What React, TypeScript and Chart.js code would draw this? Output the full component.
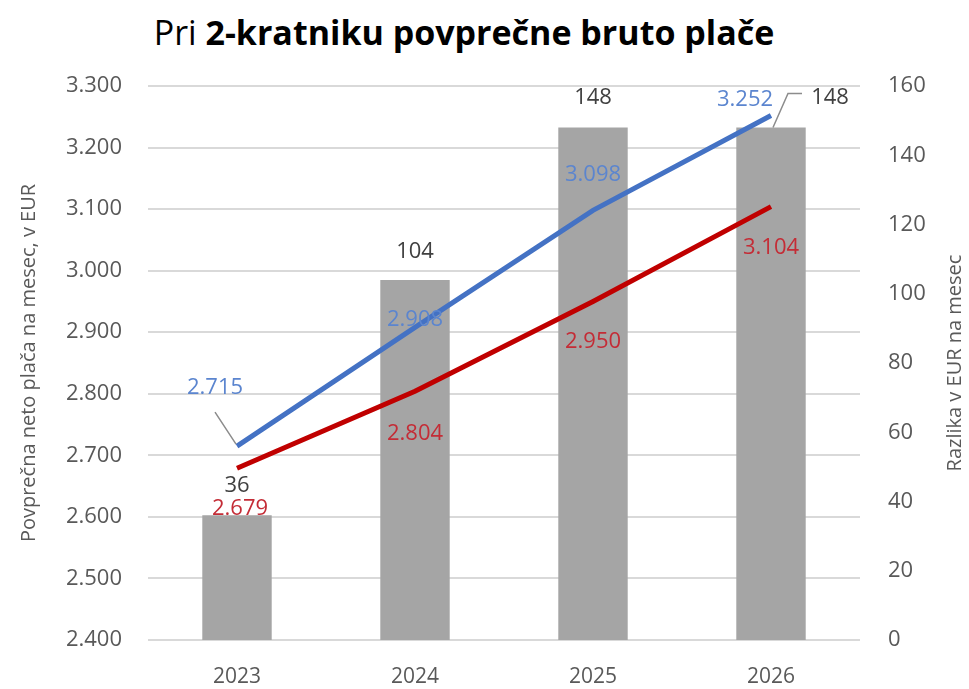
import React, { useEffect, useRef } from "react";
import { Chart, registerables } from "chart.js";

Chart.register(...registerables);

const years = ["2023", "2024", "2025", "2026"];
const razlika = [36, 104, 148, 148];
const netoModra = [2715, 2908, 3098, 3252];
const netoRdeca = [2679, 2804, 2950, 3104];

const leftTitle = "Povprečna neto plača na mesec, v EUR";
const rightTitle = "Razlika v EUR na mesec";

const FONT = "'Open Sans', 'Noto Sans', sans-serif";

const fmt = (v: number) => {
  const s = Math.round(v).toString();
  return s.replace(/\B(?=(\d{3})+(?!\d))/g, ".");
};

// label placement (pixel offsets from each mark's anchor)
const barOffsets = [[0, -30], [0, -28], [0, -30], [59, -30]];
const blueOffsets = [[-22, -58], [0, -8], [0, -36], [-26, -16]];
const redOffsets = [[3, 40], [0, 42], [0, 40], [0, 41]];

const labelPlugin = {
  id: "labels",
  afterDraw(chart: any) {
    const ctx = chart.ctx;
    const area = chart.chartArea;
    ctx.save();
    // right axis title, reading bottom-to-top
    ctx.font = `20px ${FONT}`;
    ctx.fillStyle = "#595959";
    ctx.textAlign = "center";
    ctx.textBaseline = "middle";
    ctx.translate(955, (area.top + area.bottom) / 2);
    ctx.rotate(-Math.PI / 2);
    ctx.fillText(rightTitle, 0, 0);
    ctx.restore();
  },
  afterDatasetsDraw(chart: any) {
    const ctx = chart.ctx;
    ctx.save();
    ctx.font = `22px ${FONT}`;
    ctx.textAlign = "center";
    ctx.textBaseline = "middle";
    const specs = [
      { idx: 0, offs: barOffsets, color: "#404040" },
      { idx: 1, offs: blueOffsets, color: "#5B85CF" },
      { idx: 2, offs: redOffsets, color: "#C42C36" },
    ];
    // leader lines
    const blue0 = chart.getDatasetMeta(1).data[0];
    const bar3 = chart.getDatasetMeta(0).data[3];
    ctx.strokeStyle = "#8c8c8c";
    ctx.lineWidth = 1.5;
    ctx.beginPath();
    ctx.moveTo(blue0.x - 22, blue0.y - 34);
    ctx.lineTo(blue0.x - 1, blue0.y - 2);
    ctx.moveTo(bar3.x + 2, bar3.y);
    ctx.lineTo(bar3.x + 17, bar3.y - 34);
    ctx.lineTo(bar3.x + 31, bar3.y - 34);
    ctx.stroke();
    for (const s of specs) {
      const meta = chart.getDatasetMeta(s.idx);
      const data = chart.data.datasets[s.idx].data;
      meta.data.forEach((el: any, i: number) => {
        const [dx, dy] = s.offs[i];
        ctx.fillStyle = s.color;
        const txt = s.idx === 0 ? String(data[i]) : fmt(data[i]);
        ctx.fillText(txt, el.x + dx, el.y + dy);
      });
    }
    ctx.restore();
  },
};

export default function App() {
  const ref = useRef<HTMLCanvasElement | null>(null);
  useEffect(() => {
    if (!ref.current) return;
    const chart = new Chart(ref.current, {
      type: "bar",
      data: {
        labels: years,
        datasets: [
          {
            type: "bar",
            label: "Razlika",
            data: razlika,
            yAxisID: "y1",
            backgroundColor: "#A5A5A5",
            barPercentage: 0.78,
            categoryPercentage: 0.5,
            order: 3,
          },
          {
            type: "line",
            label: "Modra",
            data: netoModra,
            yAxisID: "y",
            borderColor: "#4472C4",
            borderWidth: 5,
            pointRadius: 0,
            order: 1,
          },
          {
            type: "line",
            label: "Rdeča",
            data: netoRdeca,
            yAxisID: "y",
            borderColor: "#C00000",
            borderWidth: 5,
            pointRadius: 0,
            order: 2,
          },
        ] as any,
      },
      options: {
        animation: false,
        responsive: false,
        layout: { padding: { top: 86, left: 0, right: 0, bottom: 0 } },
        plugins: {
          legend: { display: false },
          tooltip: { enabled: false },
          title: { display: false },
        },
        scales: {
          x: {
            grid: { display: false, drawTicks: false },
            border: { display: false },
            ticks: { color: "#595959", font: { family: FONT, size: 21 }, padding: 24 },
            afterFit: (a: any) => { a.height = 49; },
          },
          y: {
            position: "left",
            min: 2400,
            max: 3300,
            ticks: {
              stepSize: 100,
              color: "#595959",
              font: { family: FONT, size: 22 },
              padding: 26,
              callback: (v: any) => fmt(Number(v)),
            },
            grid: { color: "#D9D9D9", lineWidth: 2, drawTicks: false },
            border: { display: false },
            title: {
              display: true,
              text: leftTitle,
              color: "#595959",
              font: { family: FONT, size: 20 },
              padding: { top: 17, bottom: 0 },
            },
            afterFit: (a: any) => { a.width = 148; },
          },
          y1: {
            position: "right",
            min: 0,
            max: 160,
            ticks: {
              stepSize: 20,
              color: "#595959",
              font: { family: FONT, size: 22 },
              padding: 28,
            },
            grid: { display: false, drawTicks: false },
            border: { display: false },
            title: { display: false },
            afterFit: (a: any) => { a.width = 109; },
          },
        },
      },
      plugins: [labelPlugin],
    });
    return () => chart.destroy();
  }, []);
  return (
    <div style={{ position: "fixed", left: 0, top: 0, width: 969, height: 689, background: "#fff" }}>
      <div
        style={{
          position: "absolute",
          left: 0,
          top: 8,
          width: 928,
          textAlign: "center",
          fontFamily: "'Open Sans', sans-serif",
          fontSize: 34,
          color: "#000",
          lineHeight: "48px",
        }}
      >
        Pri <b>2-kratniku povprečne bruto plače</b>
      </div>
      <canvas ref={ref} width={969} height={689} style={{ position: "absolute", left: 0, top: 0 }} />
    </div>
  );
}
